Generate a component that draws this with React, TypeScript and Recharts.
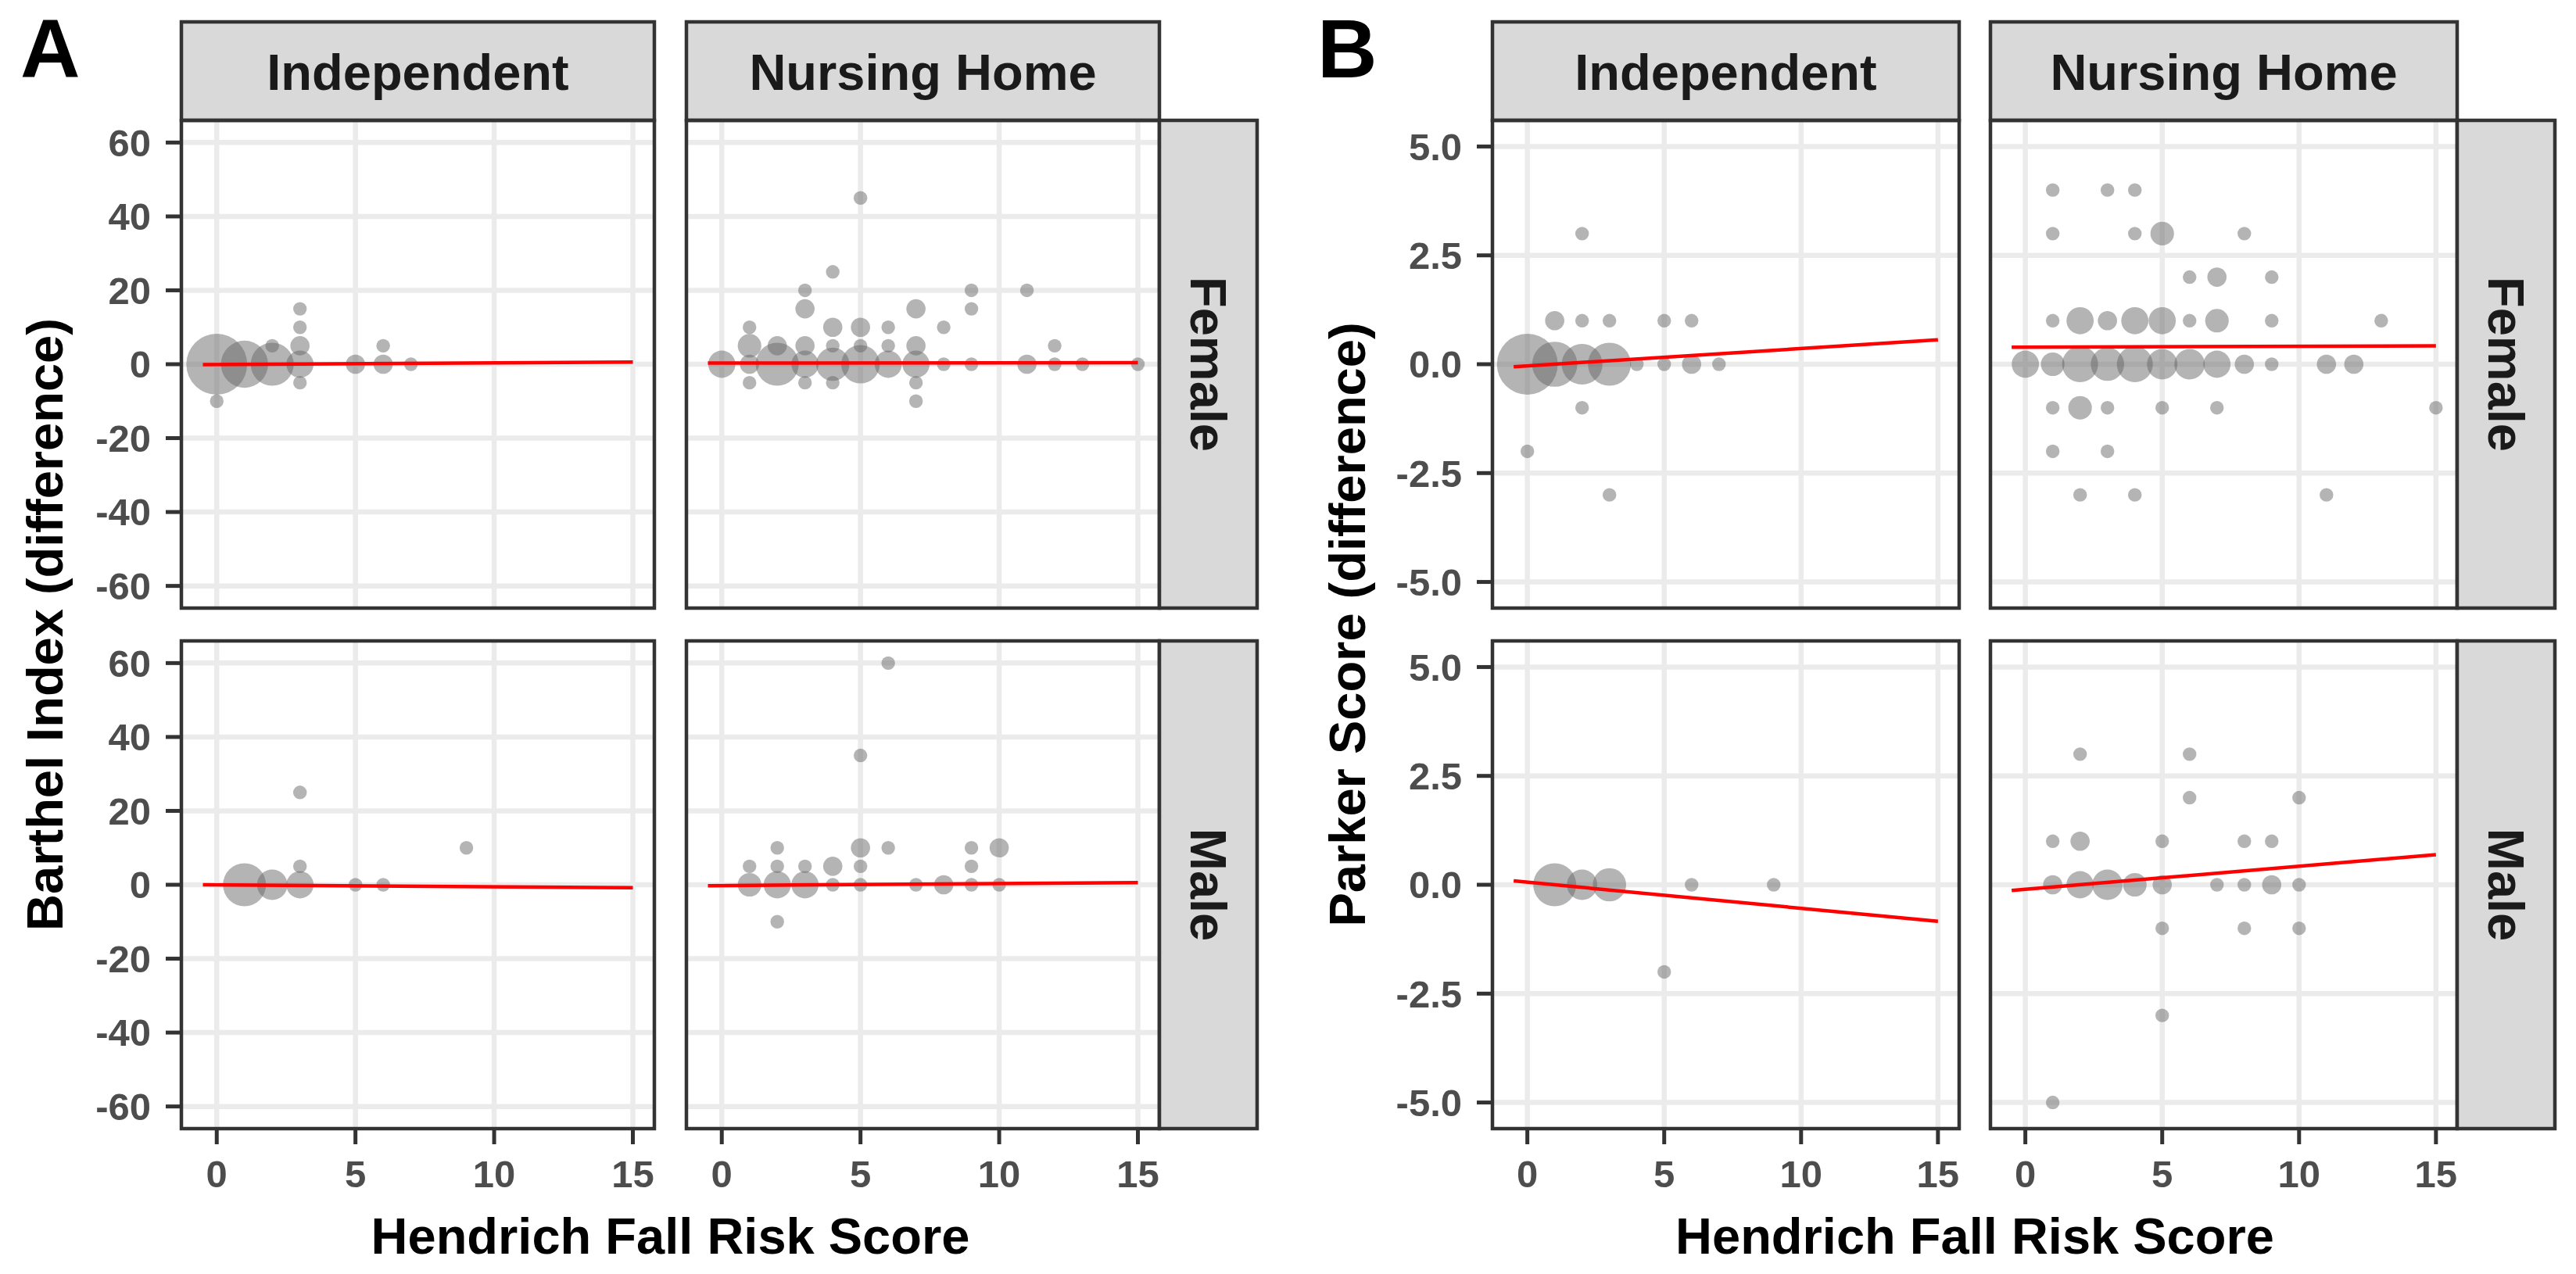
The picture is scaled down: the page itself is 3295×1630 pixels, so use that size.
import React from "react";
import { ScatterChart, Scatter, XAxis, YAxis, CartesianGrid } from "recharts";

type Pt = { x: number; y: number; n: number };
type Fit = { x: number; y: number };

// facet labels and ticks
const columns = ["Independent", "Nursing Home"];
const rows = ["Female", "Male"];
const xTicks = [0, 5, 10, 15];
const barthelTicks = [-60, -40, -20, 0, 20, 40, 60];
const parkerTicks = [-5, -2.5, 0, 2.5, 5];

// A: Barthel Index difference (n = number of overlapping patients)
const barthelIndFemale: Pt[] = [
  { x: 0, y: 0, n: 20 }, { x: 0, y: -10, n: 1 }, { x: 1, y: 0, n: 12 }, { x: 2, y: 0, n: 10 },
  { x: 2, y: 5, n: 1 }, { x: 3, y: 0, n: 4 }, { x: 3, y: 5, n: 2 }, { x: 3, y: 10, n: 1 },
  { x: 3, y: 15, n: 1 }, { x: 3, y: -5, n: 1 }, { x: 5, y: 0, n: 2 }, { x: 6, y: 0, n: 2 },
  { x: 6, y: 5, n: 1 }, { x: 7, y: 0, n: 1 },
];
const barthelNhFemale: Pt[] = [
  { x: 0, y: 0, n: 4 }, { x: 1, y: 0, n: 2 }, { x: 1, y: 5, n: 3 }, { x: 1, y: 10, n: 1 },
  { x: 1, y: -5, n: 1 }, { x: 2, y: 0, n: 10 }, { x: 2, y: 5, n: 2 }, { x: 3, y: 0, n: 4 },
  { x: 3, y: 5, n: 2 }, { x: 3, y: 15, n: 2 }, { x: 3, y: 20, n: 1 }, { x: 3, y: -5, n: 1 },
  { x: 4, y: 0, n: 6 }, { x: 4, y: 5, n: 1 }, { x: 4, y: 10, n: 2 }, { x: 4, y: 25, n: 1 },
  { x: 4, y: -5, n: 1 }, { x: 5, y: 0, n: 8 }, { x: 5, y: 5, n: 1 }, { x: 5, y: 10, n: 2 },
  { x: 5, y: 45, n: 1 }, { x: 6, y: 0, n: 4 }, { x: 6, y: 5, n: 1 }, { x: 6, y: 10, n: 1 },
  { x: 7, y: 0, n: 4 }, { x: 7, y: 5, n: 2 }, { x: 7, y: 15, n: 2 }, { x: 7, y: -5, n: 1 },
  { x: 7, y: -10, n: 1 }, { x: 8, y: 0, n: 1 }, { x: 8, y: 10, n: 1 }, { x: 9, y: 0, n: 1 },
  { x: 9, y: 15, n: 1 }, { x: 9, y: 20, n: 1 }, { x: 11, y: 0, n: 2 }, { x: 11, y: 20, n: 1 },
  { x: 12, y: 0, n: 1 }, { x: 12, y: 5, n: 1 }, { x: 13, y: 0, n: 1 }, { x: 15, y: 0, n: 1 },
];
const barthelIndMale: Pt[] = [
  { x: 1, y: 0, n: 10 }, { x: 2, y: 0, n: 5 }, { x: 3, y: 0, n: 4 }, { x: 3, y: 5, n: 1 },
  { x: 3, y: 25, n: 1 }, { x: 5, y: 0, n: 1 }, { x: 6, y: 0, n: 1 }, { x: 9, y: 10, n: 1 },
];
const barthelNhMale: Pt[] = [
  { x: 1, y: 0, n: 3 }, { x: 1, y: 5, n: 1 }, { x: 2, y: 0, n: 4 }, { x: 2, y: 5, n: 1 },
  { x: 2, y: 10, n: 1 }, { x: 2, y: -10, n: 1 }, { x: 3, y: 0, n: 4 }, { x: 3, y: 5, n: 1 },
  { x: 4, y: 0, n: 1 }, { x: 4, y: 5, n: 2 }, { x: 5, y: 0, n: 1 }, { x: 5, y: 5, n: 1 },
  { x: 5, y: 10, n: 2 }, { x: 5, y: 35, n: 1 }, { x: 6, y: 10, n: 1 }, { x: 6, y: 60, n: 1 },
  { x: 7, y: 0, n: 1 }, { x: 8, y: 0, n: 2 }, { x: 9, y: 0, n: 1 }, { x: 9, y: 5, n: 1 },
  { x: 9, y: 10, n: 1 }, { x: 10, y: 0, n: 1 }, { x: 10, y: 10, n: 2 },
];

// B: Parker Score difference
const parkerIndFemale: Pt[] = [
  { x: 0, y: 0, n: 20 }, { x: 0, y: -2, n: 1 }, { x: 1, y: 0, n: 11 }, { x: 1, y: 1, n: 2 },
  { x: 2, y: 0, n: 9 }, { x: 2, y: 1, n: 1 }, { x: 2, y: 3, n: 1 }, { x: 2, y: -1, n: 1 },
  { x: 3, y: 0, n: 10 }, { x: 3, y: 1, n: 1 }, { x: 3, y: -3, n: 1 }, { x: 4, y: 0, n: 1 },
  { x: 5, y: 0, n: 1 }, { x: 5, y: 1, n: 1 }, { x: 6, y: 0, n: 2 }, { x: 6, y: 1, n: 1 },
  { x: 7, y: 0, n: 1 },
];
const parkerNhFemale: Pt[] = [
  { x: 1, y: 4, n: 1 }, { x: 3, y: 4, n: 1 }, { x: 4, y: 4, n: 1 },
  { x: 1, y: 3, n: 1 }, { x: 4, y: 3, n: 1 }, { x: 5, y: 3, n: 3 }, { x: 8, y: 3, n: 1 },
  { x: 6, y: 2, n: 1 }, { x: 7, y: 2, n: 2 }, { x: 9, y: 2, n: 1 },
  { x: 1, y: 1, n: 1 }, { x: 2, y: 1, n: 4 }, { x: 3, y: 1, n: 2 }, { x: 4, y: 1, n: 4 },
  { x: 5, y: 1, n: 4 }, { x: 6, y: 1, n: 1 }, { x: 7, y: 1, n: 3 }, { x: 9, y: 1, n: 1 },
  { x: 13, y: 1, n: 1 },
  { x: 0, y: 0, n: 4 }, { x: 1, y: 0, n: 3 }, { x: 2, y: 0, n: 7 }, { x: 3, y: 0, n: 6 },
  { x: 4, y: 0, n: 7 }, { x: 5, y: 0, n: 5 }, { x: 6, y: 0, n: 5 }, { x: 7, y: 0, n: 4 },
  { x: 8, y: 0, n: 2 }, { x: 9, y: 0, n: 1 }, { x: 11, y: 0, n: 2 }, { x: 12, y: 0, n: 2 },
  { x: 1, y: -1, n: 1 }, { x: 2, y: -1, n: 3 }, { x: 3, y: -1, n: 1 }, { x: 5, y: -1, n: 1 },
  { x: 7, y: -1, n: 1 }, { x: 15, y: -1, n: 1 },
  { x: 1, y: -2, n: 1 }, { x: 3, y: -2, n: 1 },
  { x: 2, y: -3, n: 1 }, { x: 4, y: -3, n: 1 }, { x: 11, y: -3, n: 1 },
];
const parkerIndMale: Pt[] = [
  { x: 1, y: 0, n: 10 }, { x: 2, y: 0, n: 5 }, { x: 3, y: 0, n: 6 }, { x: 5, y: -2, n: 1 },
  { x: 6, y: 0, n: 1 }, { x: 9, y: 0, n: 1 },
];
const parkerNhMale: Pt[] = [
  { x: 2, y: 3, n: 1 }, { x: 6, y: 3, n: 1 }, { x: 6, y: 2, n: 1 }, { x: 10, y: 2, n: 1 },
  { x: 1, y: 1, n: 1 }, { x: 2, y: 1, n: 2 }, { x: 5, y: 1, n: 1 }, { x: 8, y: 1, n: 1 },
  { x: 9, y: 1, n: 1 },
  { x: 1, y: 0, n: 2 }, { x: 2, y: 0, n: 4 }, { x: 3, y: 0, n: 5 }, { x: 4, y: 0, n: 3 },
  { x: 5, y: 0, n: 2 }, { x: 7, y: 0, n: 1 }, { x: 8, y: 0, n: 1 }, { x: 9, y: 0, n: 2 },
  { x: 10, y: 0, n: 1 },
  { x: 5, y: -1, n: 1 }, { x: 8, y: -1, n: 1 }, { x: 10, y: -1, n: 1 },
  { x: 5, y: -3, n: 1 }, { x: 1, y: -5, n: 1 },
];

// linear fit endpoints
const barthelFits: Fit[][] = [
  [{ x: -0.5, y: -0.1 }, { x: 15, y: 0.6 }],
  [{ x: -0.5, y: 0.3 }, { x: 15, y: 0.4 }],
  [{ x: -0.5, y: 0.0 }, { x: 15, y: -0.8 }],
  [{ x: -0.5, y: -0.25 }, { x: 15, y: 0.6 }],
];
const parkerFits: Fit[][] = [
  [{ x: -0.5, y: -0.06 }, { x: 15, y: 0.56 }],
  [{ x: -0.5, y: 0.39 }, { x: 15, y: 0.42 }],
  [{ x: -0.5, y: 0.09 }, { x: 15, y: -0.84 }],
  [{ x: -0.5, y: -0.13 }, { x: 15, y: 0.69 }],
];

const FONT = "'Liberation Sans', Arial, Helvetica, sans-serif";
const xDomain = [-1.275, 15.775];
const rowTops = [154, 820];
const PH = 624;
const STRIP_TOP = 28;
const STRIP = 126;

const tickStyle = { fill: "#4D4D4D", fontSize: 49, fontWeight: 700, fontFamily: FONT };

function Bubble(props: any) {
  const { cx, cy, payload } = props;
  if (cx == null || cy == null) return <g />;
  return <circle cx={cx} cy={cy} r={8.7 * Math.sqrt(payload.n)} fill="#666666" fillOpacity={0.49} />;
}

function Panel(props: {
  pts: Pt[]; fit: Fit[]; left: number; top: number; w: number;
  showX: boolean; showY: boolean; yDomain: number[]; yTicks: number[]; yFmt: (v: number) => string;
}) {
  const { pts, fit, left, top, w, showX, showY, yDomain, yTicks, yFmt } = props;
  const axW = showY ? 200 : 0;
  const axH = showX ? 130 : 0;
  return (
    <div style={{ position: "absolute", left: left - axW, top }}>
      <ScatterChart width={w + axW} height={PH + axH} margin={{ top: 0, right: 0, bottom: 0, left: 0 }}>
        <CartesianGrid stroke="#EBEBEB" strokeWidth={6.5} fill="#FFFFFF"
          verticalValues={xTicks} horizontalValues={yTicks} />
        <XAxis type="number" dataKey="x" domain={xDomain} ticks={xTicks} interval={0}
          hide={!showX} height={axH} axisLine={false} tickSize={20} tickMargin={20}
          tickLine={{ stroke: "#333333", strokeWidth: 5 }} tick={tickStyle} />
        <YAxis type="number" dataKey="y" domain={yDomain} ticks={yTicks} interval={0}
          hide={!showY} width={axW} axisLine={false} tickSize={20} tickMargin={19}
          tickLine={{ stroke: "#333333", strokeWidth: 5 }} tick={tickStyle} tickFormatter={yFmt} />
        <Scatter data={pts} shape={Bubble} isAnimationActive={false} />
        <Scatter data={fit} line={{ stroke: "#FF0000", strokeWidth: 4.5 }} shape={() => <g />}
          isAnimationActive={false} />
      </ScatterChart>
    </div>
  );
}

function Facets(props: {
  letter: string; letterX: number; data: Pt[][]; fits: Fit[][]; colLefts: number[]; w: number;
  yDomain: number[]; yTicks: number[]; yFmt: (v: number) => string; yTitle: string; yTitleX: number;
}) {
  const { data, fits, colLefts, w, yDomain, yTicks, yFmt } = props;
  const panels = [];
  for (let r = 0; r < 2; r++)
    for (let c = 0; c < 2; c++)
      panels.push(
        <Panel key={`${r}${c}`} pts={data[r * 2 + c]} fit={fits[r * 2 + c]} left={colLefts[c]}
          top={rowTops[r]} w={w} showX={r === 1} showY={c === 0}
          yDomain={yDomain} yTicks={yTicks} yFmt={yFmt} />
      );
  return <>{panels}</>;
}

function Overlay(props: {
  letter: string; letterX: number; colLefts: number[]; w: number; yTitle: string; yTitleX: number;
}) {
  const { letter, letterX, colLefts, w, yTitle, yTitleX } = props;
  const stripX = colLefts[1] + w;
  const mid = (colLefts[0] + colLefts[1] + w) / 2;
  const rowMid = (rowTops[0] + rowTops[1] + PH) / 2;
  return (
    <g fontFamily={FONT} fontWeight={700}>
      <text x={letterX} y={99} fontSize={106} fill="#000">{letter}</text>
      {colLefts.map((x, i) => (
        <g key={columns[i]}>
          <rect x={x} y={STRIP_TOP} width={w} height={STRIP} fill="#D9D9D9" stroke="#333333" strokeWidth={4.5} />
          <text x={x + w / 2} y={115} fontSize={65} textAnchor="middle" fill="#1A1A1A">{columns[i]}</text>
          {rowTops.map((y) => (
            <rect key={y} x={x} y={y} width={w} height={PH} fill="none" stroke="#333333" strokeWidth={4.5} />
          ))}
        </g>
      ))}
      {rowTops.map((y, i) => (
        <g key={rows[i]}>
          <rect x={stripX} y={y} width={125} height={PH} fill="#D9D9D9" stroke="#333333" strokeWidth={4.5} />
          <g transform={`translate(${stripX + 62.5},${y + PH / 2}) rotate(90)`}>
            <text x={0} y={23} fontSize={65} textAnchor="middle" fill="#1A1A1A">{rows[i]}</text>
          </g>
        </g>
      ))}
      <g transform={`translate(${yTitleX},${rowMid}) rotate(-90)`}>
        <text x={0} y={0} fontSize={65} textAnchor="middle" fill="#000">{yTitle}</text>
      </g>
      <text x={mid} y={1604} fontSize={65} textAnchor="middle" fill="#000">Hendrich Fall Risk Score</text>
    </g>
  );
}

export default function App() {
  const aCols = [232, 878];
  const bCols = [1909, 2546];
  const intFmt = (v: number) => String(v);
  const decFmt = (v: number) => v.toFixed(1);
  return (
    <div style={{ position: "absolute", left: 0, top: 0, width: 3295, height: 1630, background: "#FFFFFF", overflow: "hidden" }}>
      <Facets letter="A" letterX={26} data={[barthelIndFemale, barthelNhFemale, barthelIndMale, barthelNhMale]}
        fits={barthelFits} colLefts={aCols} w={605} yDomain={[-66, 66]} yTicks={barthelTicks} yFmt={intFmt}
        yTitle="Barthel Index (difference)" yTitleX={80} />
      <Facets letter="B" letterX={1685} data={[parkerIndFemale, parkerNhFemale, parkerIndMale, parkerNhMale]}
        fits={parkerFits} colLefts={bCols} w={597} yDomain={[-5.6, 5.6]} yTicks={parkerTicks} yFmt={decFmt}
        yTitle="Parker Score (difference)" yTitleX={1746} />
      <svg width={3295} height={1630} style={{ position: "absolute", left: 0, top: 0, pointerEvents: "none" }}>
        <Overlay letter="A" letterX={26} colLefts={aCols} w={605} yTitle="Barthel Index (difference)" yTitleX={80} />
        <Overlay letter="B" letterX={1685} colLefts={bCols} w={597} yTitle="Parker Score (difference)" yTitleX={1746} />
      </svg>
    </div>
  );
}
